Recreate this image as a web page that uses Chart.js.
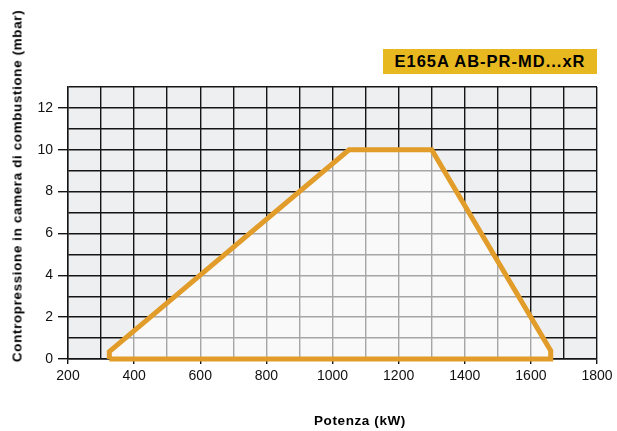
<!DOCTYPE html>
<html>
<head>
<meta charset="utf-8">
<script src="https://cdn.jsdelivr.net/npm/chart.js@4/dist/chart.umd.min.js"></script>
<style>
  html, body { margin: 0; padding: 0; background: #ffffff; }
  #wrap { position: relative; width: 617px; height: 431px; overflow: hidden; }
  canvas { position: absolute; left: 0; top: 0; }
  .badge { position: absolute; left: 383px; top: 49px; width: 214px; height: 25px; background: #e8b820;
           font: bold 16.5px "Liberation Sans", Arial, sans-serif; letter-spacing: 1px; color: #000;
           display: flex; align-items: center; justify-content: center; }
  .xtitle { position: absolute; left: 260px; width: 200px; top: 413px; text-align: center;
            font: bold 13.5px "Liberation Sans", Arial, sans-serif; letter-spacing: 0.6px; color: #000; }
  .ytitle { position: absolute; left: 17px; top: 186px; transform: translate(-50%, -50%) rotate(-90deg);
            white-space: nowrap; font: bold 13.5px "Liberation Sans", Arial, sans-serif; letter-spacing: 0.6px; color: #000; }
</style>
</head>
<body>
<div id="wrap">
  <canvas id="c" width="617" height="431"></canvas>
  <div class="badge">E165A AB-PR-MD...xR</div>
  <div class="xtitle">Potenza (kW)</div>
  <div class="ytitle">Contropressione in camera di combustione (mbar)</div>
</div>
<script>
// Working envelope (burner firing range)
const envelopeKW   = [325, 325, 1050, 1300, 1660, 1660, 325];
const envelopeMbar = [0, 0.35, 10, 10, 0.4, 0, 0];

// Axis tick labels
const xTickLabels = ['200', '400', '600', '800', '1000', '1200', '1400', '1600', '1800'];
const yTickLabels = ['0', '2', '4', '6', '8', '10', '12'];

const points = envelopeKW.map((x, i) => ({ x: x, y: envelopeMbar[i] }));

const gridDark = '#151515';

const bgPlugin = {
  id: 'plotBg',
  beforeDraw(chart) {
    const { ctx, chartArea: a } = chart;
    ctx.save();
    ctx.fillStyle = '#eeeff1';
    ctx.fillRect(a.left, a.top, a.right - a.left, a.bottom - a.top);
    ctx.restore();
  }
};

new Chart(document.getElementById('c'), {
  type: 'scatter',
  data: {
    datasets: [{
      data: points,
      showLine: true,
      fill: 'shape',
      backgroundColor: 'rgba(255,255,255,0.62)',
      borderColor: '#e19c29',
      borderWidth: 5,
      borderJoinStyle: 'miter',
      pointRadius: 0,
      pointHoverRadius: 0,
      tension: 0,
      clip: false
    }]
  },
  options: {
    responsive: false,
    devicePixelRatio: 1,
    animation: false,
    layout: { padding: { top: 87, right: 20, left: 0, bottom: 0 } },
    plugins: { legend: { display: false }, tooltip: { enabled: false } },
    scales: {
      x: {
        type: 'linear', min: 200, max: 1800,
        afterFit(s) { s.height = 72; },
        ticks: {
          stepSize: 100, autoSkip: false, maxRotation: 0, padding: 4,
          color: '#111', font: { family: '"Liberation Sans", Arial, sans-serif', size: 14 },
          callback: (v) => xTickLabels.includes(String(v)) ? String(v) : ''
        },
        grid: {
          color: gridDark, lineWidth: 1.4, tickLength: 5,
          tickColor: (ctx) => (ctx.tick && xTickLabels.includes(String(ctx.tick.value))) ? gridDark : 'rgba(0,0,0,0)'
        },
        border: { color: gridDark, width: 1.4 }
      },
      y: {
        type: 'linear', min: 0, max: 13,
        afterFit(s) { s.width = 68; },
        ticks: {
          stepSize: 1, autoSkip: false, padding: 5,
          color: '#111', font: { family: '"Liberation Sans", Arial, sans-serif', size: 14 },
          callback: (v) => yTickLabels.includes(String(v)) ? String(v) : ''
        },
        grid: {
          color: gridDark, lineWidth: 1.4, tickLength: 10,
          tickColor: (ctx) => (ctx.tick && yTickLabels.includes(String(ctx.tick.value))) ? gridDark : 'rgba(0,0,0,0)'
        },
        border: { color: gridDark, width: 1.4 }
      }
    }
  },
  plugins: [bgPlugin]
});
</script>
</body>
</html>
